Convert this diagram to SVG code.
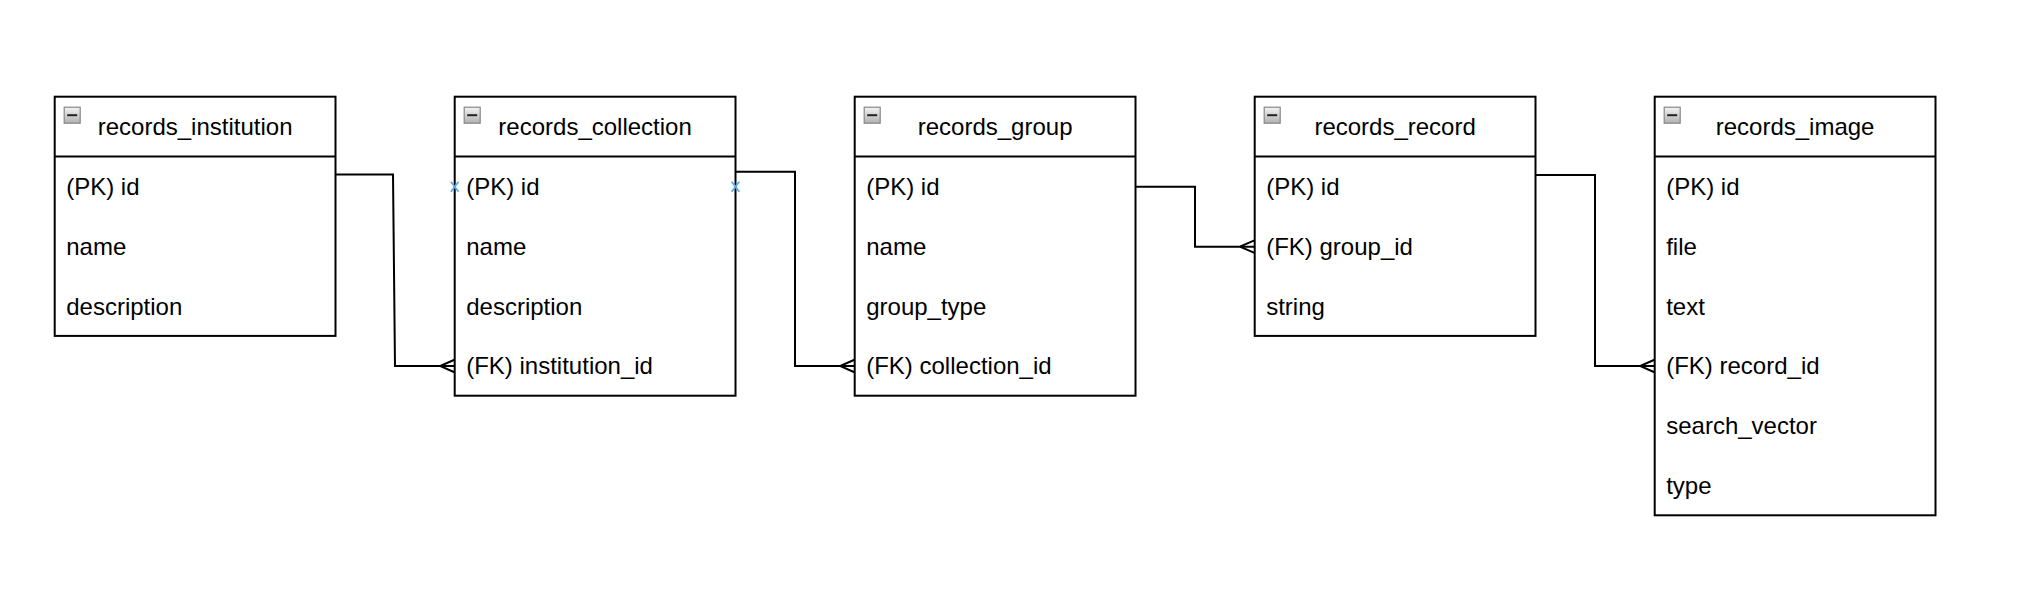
<svg xmlns="http://www.w3.org/2000/svg" width="2030" height="598" viewBox="0 0 2030 598">
  <style>
    .box { fill: #ffffff; stroke: #000000; stroke-width: 2; }
    .sep { stroke: #000000; stroke-width: 2; }
    .title { font-family: "Liberation Sans", Arial, Helvetica, sans-serif; font-size: 24px; fill: #000000; text-anchor: middle; }
    .row { font-family: "Liberation Sans", Arial, Helvetica, sans-serif; font-size: 24px; fill: #000000; }
    .icon { fill: url(#iconGrad); stroke: #888888; stroke-width: 1.2; }
    .minus { stroke: #222222; stroke-width: 2; }
    .conn { fill: none; stroke: #000000; stroke-width: 2; }
    .pt { fill: none; stroke: #5aaaea; stroke-width: 1.8; }
  </style>
  <defs>
    <linearGradient id="iconGrad" x1="0" y1="0" x2="0" y2="1">
      <stop offset="0" stop-color="#f4f4f4"/>
      <stop offset="1" stop-color="#b0b0b0"/>
    </linearGradient>
    <marker id="crow" markerUnits="userSpaceOnUse" viewBox="0 -8 16 16" refX="15" refY="0" markerWidth="16" markerHeight="16" orient="auto">
      <path d="M15,-6.5 L0,0 L15,6.5" fill="none" stroke="#000000" stroke-width="2"/>
    </marker>
  </defs>
  <rect x="0" y="0" width="2030" height="598" fill="#ffffff"/>

  <g id="connectors">
    <path class="conn" d="M335,174.5 L393,174.5 L395,366 L455,366" marker-end="url(#crow)"/>
    <path class="conn" d="M735,171.7 L795,171.7 L795,366 L855,366" marker-end="url(#crow)"/>
    <path class="conn" d="M1135,186.7 L1195,186.7 L1195,246.7 L1255,246.7" marker-end="url(#crow)"/>
    <path class="conn" d="M1535,175 L1595,175 L1595,366 L1655,366" marker-end="url(#crow)"/>
  </g>

  <g id="records_institution" transform="translate(54.7,96.7)">
    <rect class="box" x="0" y="0" width="280.8" height="239.2"/>
    <line class="sep" x1="0" y1="59.8" x2="280.8" y2="59.8"/>
    <rect class="icon" x="9.5" y="10.5" width="16" height="16"/>
    <line class="minus" x1="12.5" y1="18.5" x2="22.5" y2="18.5"/>
    <text class="title" x="140.4" y="38">records_institution</text>
    <text class="row" x="11.5" y="98.3">(PK) id</text>
    <text class="row" x="11.5" y="158.1">name</text>
    <text class="row" x="11.5" y="217.9">description</text>
  </g>

  <g id="records_collection" transform="translate(454.7,96.7)">
    <rect class="box" x="0" y="0" width="280.8" height="299"/>
    <line class="sep" x1="0" y1="59.8" x2="280.8" y2="59.8"/>
    <rect class="icon" x="9.5" y="10.5" width="16" height="16"/>
    <line class="minus" x1="12.5" y1="18.5" x2="22.5" y2="18.5"/>
    <text class="title" x="140.4" y="38">records_collection</text>
    <text class="row" x="11.5" y="98.3">(PK) id</text>
    <text class="row" x="11.5" y="158.1">name</text>
    <text class="row" x="11.5" y="217.9">description</text>
    <text class="row" x="11.5" y="277.7">(FK) institution_id</text>
    <path class="pt" d="M-3.8,85 L3.8,95 M3.8,85 L-3.8,95"/>
    <path class="pt" d="M277,85 L284.6,95 M284.6,85 L277,95"/>
  </g>

  <g id="records_group" transform="translate(854.7,96.7)">
    <rect class="box" x="0" y="0" width="280.8" height="299"/>
    <line class="sep" x1="0" y1="59.8" x2="280.8" y2="59.8"/>
    <rect class="icon" x="9.5" y="10.5" width="16" height="16"/>
    <line class="minus" x1="12.5" y1="18.5" x2="22.5" y2="18.5"/>
    <text class="title" x="140.4" y="38">records_group</text>
    <text class="row" x="11.5" y="98.3">(PK) id</text>
    <text class="row" x="11.5" y="158.1">name</text>
    <text class="row" x="11.5" y="217.9">group_type</text>
    <text class="row" x="11.5" y="277.7">(FK) collection_id</text>
  </g>

  <g id="records_record" transform="translate(1254.7,96.7)">
    <rect class="box" x="0" y="0" width="280.8" height="239.2"/>
    <line class="sep" x1="0" y1="59.8" x2="280.8" y2="59.8"/>
    <rect class="icon" x="9.5" y="10.5" width="16" height="16"/>
    <line class="minus" x1="12.5" y1="18.5" x2="22.5" y2="18.5"/>
    <text class="title" x="140.4" y="38">records_record</text>
    <text class="row" x="11.5" y="98.3">(PK) id</text>
    <text class="row" x="11.5" y="158.1">(FK) group_id</text>
    <text class="row" x="11.5" y="217.9">string</text>
  </g>

  <g id="records_image" transform="translate(1654.7,96.7)">
    <rect class="box" x="0" y="0" width="280.8" height="418.6"/>
    <line class="sep" x1="0" y1="59.8" x2="280.8" y2="59.8"/>
    <rect class="icon" x="9.5" y="10.5" width="16" height="16"/>
    <line class="minus" x1="12.5" y1="18.5" x2="22.5" y2="18.5"/>
    <text class="title" x="140.4" y="38">records_image</text>
    <text class="row" x="11.5" y="98.3">(PK) id</text>
    <text class="row" x="11.5" y="158.1">file</text>
    <text class="row" x="11.5" y="217.9">text</text>
    <text class="row" x="11.5" y="277.7">(FK) record_id</text>
    <text class="row" x="11.5" y="337.5">search_vector</text>
    <text class="row" x="11.5" y="397.3">type</text>
  </g>
</svg>
